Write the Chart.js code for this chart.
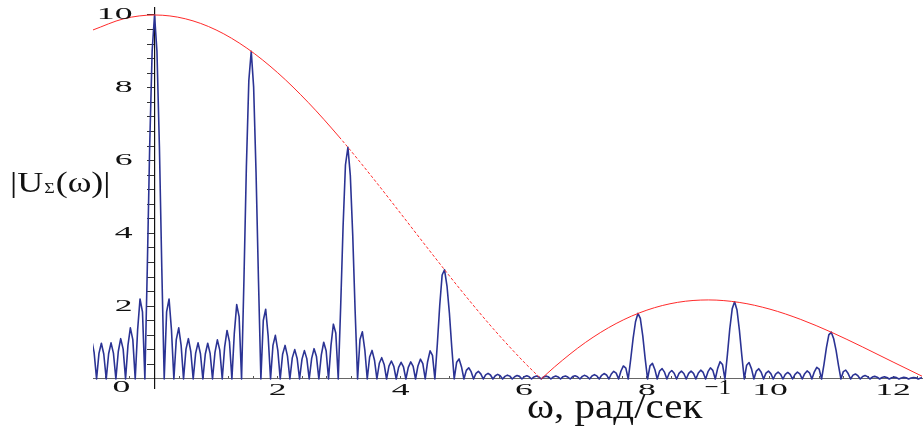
<!DOCTYPE html>
<html>
<head>
<meta charset="utf-8">
<script src="https://cdn.jsdelivr.net/npm/chart.js@4.4.1/dist/chart.umd.min.js"></script>
<style>
  html, body { margin: 0; padding: 0; background: #ffffff; }
  #wrap { width: 924px; height: 428px; position: relative; }
</style>
</head>
<body>
<div id="wrap"><canvas id="c" width="924" height="428"></canvas></div>
<script>
// ---------- DATA ----------
// |U_Sigma(omega)| : blue curve, omega in rad/s
const omega = [
  -1.021,-0.982,-0.942,-0.903,-0.864,-0.825,-0.785,-0.746,-0.707,-0.668,-0.628,-0.589,-0.550,
  -0.510,-0.471,-0.432,-0.393,-0.353,-0.314,-0.275,-0.236,-0.196,-0.157,-0.118,-0.079,-0.039,
  0,0.039,0.079,0.118, 0.157,0.196,0.236,0.275, 0.314,0.353,0.393,0.432, 0.471,0.511,0.550,0.589,
  0.628,0.668,0.707,0.746, 0.785,0.825,0.864,0.903, 0.942,0.982,1.021,1.060, 1.100,1.139,1.178,1.217,
  1.257,1.296,1.335,1.374, 1.414,1.453,1.492,1.532,
  1.571,1.610,1.649,1.689, 1.728,1.767,1.806,1.846, 1.885,1.924,1.963,2.003, 2.042,2.081,2.121,2.160,
  2.199,2.238,2.278,2.317, 2.356,2.396,2.435,2.474, 2.513,2.553,2.592,2.631, 2.670,2.710,2.749,2.788,
  2.827,2.867,2.906,2.945, 2.985,3.024,3.063,3.102,
  3.142,3.181,3.220,3.259, 3.299,3.338,3.377,3.417, 3.456,3.495,3.534,3.574, 3.613,3.652,3.691,3.731,
  3.770,3.809,3.848,3.888, 3.927,3.966,4.006,4.045, 4.084,4.123,4.163,4.202, 4.241,4.280,4.320,4.359,
  4.398,4.437,4.477,4.516, 4.555,4.595,4.634,4.673,
  4.712,4.752,4.791,4.830, 4.869,4.909,4.948,4.987, 5.027,5.066,5.105,5.144, 5.184,5.223,5.262,5.301,
  5.341,5.380,5.419,5.458, 5.498,5.537,5.576,5.616, 5.655,5.694,5.733,5.773, 5.812,5.851,5.890,5.930,
  5.969,6.008,6.048,6.087, 6.126,6.165,6.205,6.244,
  6.283,6.322,6.362,6.401, 6.440,6.480,6.519,6.558, 6.597,6.637,6.676,6.715, 6.754,6.794,6.833,6.872,
  6.912,6.951,6.990,7.029, 7.069,7.108,7.147,7.187, 7.226,7.265,7.304,7.344, 7.383,7.422,7.461,7.501,
  7.540,7.579,7.618,7.658, 7.697,7.736,7.776,7.815,
  7.854,7.893,7.933,7.972, 8.011,8.050,8.090,8.129, 8.168,8.207,8.247,8.286, 8.325,8.365,8.404,8.443,
  8.482,8.522,8.561,8.600, 8.639,8.679,8.718,8.757, 8.796,8.836,8.875,8.914, 8.954,8.993,9.032,9.071,
  9.111,9.150,9.189,9.228, 9.268,9.307,9.346,9.386,
  9.425,9.464,9.503,9.543, 9.582,9.621,9.660,9.700, 9.739,9.778,9.817,9.857, 9.896,9.935,9.975,10.014,
  10.053,10.092,10.132,10.171, 10.210,10.249,10.289,10.328, 10.367,10.407,10.446,10.485,
  10.524,10.564,10.603,10.642, 10.681,10.721,10.760,10.799, 10.838,10.878,10.917,10.956,
  10.996,11.035,11.074,11.113, 11.153,11.192,11.231,11.270, 11.310,11.349,11.388,11.428,
  11.467,11.506,11.545,11.585, 11.624,11.663,11.702,11.742, 11.781,11.820,11.860,11.899,
  11.938,11.977,12.017,12.056, 12.095,12.134,12.174,12.213, 12.252,12.292,12.331,12.370,
  12.409,12.449,12.488
];
const uSigma = [
  1.074,0.732,0,0.705,0.981,0.687,0,0.694,0.992,0.712,0,0.755,1.108,
  0.819,0,0.924,1.405,1.082,0,1.350,2.198,1.844,0,3.03,6.39,9.01,
  10,9.01,6.39,3.03, 0,1.844,2.198,1.350, 0,1.082,1.405,0.924, 0,0.819,1.108,0.755,
  0,0.712,0.992,0.694, 0,0.687,0.981,0.705, 0,0.732,1.074,0.793, 0,0.877,1.334,1.027,
  0,1.255,2.043,1.714, 0,2.756,5.815,8.199,
  9.003,8.024,5.691,2.697, 0,1.607,1.915,1.176, 0,0.922,1.198,0.788, 0,0.682,0.923,0.630,
  0,0.580,0.807,0.565, 0,0.546,0.780,0.560, 0,0.568,0.833,0.616, 0,0.664,1.009,0.777,
  0,0.925,1.506,1.263, 0,1.976,4.170,5.879,
  6.366,5.593,3.967,1.880, 0,1.087,1.296,0.796, 0,0.604,0.785,0.516, 0,0.432,0.585,0.399,
  0,0.354,0.494,0.346, 0,0.321,0.459,0.330, 0,0.321,0.470,0.348, 0,0.358,0.544,0.419,
  0,0.475,0.773,0.648, 0,0.960,2.026,2.856,
  3.001,2.554,1.811,0.858, 0,0.462,0.551,0.339, 0,0.237,0.308,0.202, 0,0.154,0.208,0.142,
  0,0.112,0.156,0.110, 0,0.088,0.126,0.090, 0,0.072,0.106,0.079, 0,0.062,0.094,0.072,
  0,0.062,0.086,0.060, 0,0.058,0.081,0.057,
  0,0.056,0.079,0.056, 0,0.056,0.080,0.057, 0,0.064,0.083,0.054, 0,0.066,0.089,0.061,
  0,0.072,0.100,0.070, 0,0.083,0.119,0.085, 0,0.102,0.150,0.111, 0,0.138,0.211,0.162,
  0,0.220,0.358,0.300, 0,0.529,1.116,1.573,
  1.801,1.668,1.183,0.561, 0,0.359,0.428,0.263, 0,0.220,0.285,0.188, 0,0.172,0.233,0.159,
  0,0.154,0.215,0.150, 0,0.153,0.218,0.156, 0,0.166,0.243,0.180, 0,0.202,0.307,0.237,
  0,0.292,0.476,0.399, 0,0.648,1.367,1.927,
  2.122,1.895,1.344,0.637, 0,0.380,0.453,0.278, 0,0.218,0.283,0.186, 0,0.160,0.217,0.148,
  0,0.135,0.188,0.131, 0,0.125,0.179,0.128, 0,0.128,0.187,0.139,
  0,0.146,0.222,0.171, 0,0.198,0.322,0.270, 0,0.407,0.860,1.212,
  1.286,1.105,0.784,0.371, 0,0.204,0.243,0.149, 0,0.106,0.138,0.091,
  0,0.070,0.095,0.065, 0,0.052,0.072,0.051, 0,0.041,0.059,0.042,
  0,0.035,0.051,0.037, 0,0.030,0.045,0.035, 0,0.026,0.042,0.035,
  0,0.029,0.040
];
// red envelope, first and second lobe
const envOmega1  = [-1,-0.5,0,0.5,1,1.5,2,2.5,3,3.5,4,4.5,5,5.5,6,6.283];
const envValues1 = [9.589,9.896,10,9.896,9.589,9.089,8.415,7.592,6.650,5.623,4.546,3.458,2.394,1.388,0.470,0];
const envOmega2  = [6.283,6.5,7,7.5,8,8.5,9,9.5,10,10.5,11,11.5,12,12.5];
const envValues2 = [0,0.333,1.002,1.524,1.892,2.106,2.172,2.104,1.918,1.636,1.283,0.884,0.466,0.053];
// axis tick labels
const xTickLabels = [2, 4, 6, 8, 10, 12];
const yTickLabels = [2, 4, 6, 8, 10];
const yAxisTitle = ['|U', 'Σ', '(ω)|'];
const xAxisTitle = ['ω, рад/сек', '−1'];

// ---------- CHART ----------
const toXY = (xs, ys) => xs.map((x, i) => ({ x: x, y: ys[i] }));
const SERIF = '"Liberation Serif", "DejaVu Serif", serif';

function stretchText(ctx, text, x, y, size, sx, align, baseline) {
  ctx.save();
  ctx.font = size + 'px ' + SERIF;
  ctx.textBaseline = baseline || 'alphabetic';
  ctx.textAlign = 'left';
  const w = ctx.measureText(text).width * sx;
  let x0 = x;
  if (align === 'center') x0 = x - w / 2;
  else if (align === 'right') x0 = x - w;
  ctx.translate(x0, y);
  ctx.scale(sx, 1);
  ctx.fillStyle = '#111';
  ctx.fillText(text, 0, 0);
  ctx.restore();
  return w;
}

const labelPlugin = {
  id: 'labels',
  afterDraw(chart) {
    const ctx = chart.ctx;
    const xs = chart.scales.x, ys = chart.scales.y;
    const x0 = xs.getPixelForValue(0), y0 = ys.getPixelForValue(0);
    // x tick labels
    xTickLabels.forEach(v => {
      stretchText(ctx, String(v), xs.getPixelForValue(v), y0 + 12, 17, 2.1, 'center', 'middle');
    });
    // y tick labels
    yTickLabels.forEach(v => {
      stretchText(ctx, String(v), x0 - 22, ys.getPixelForValue(v), 17, 2.1, 'right', 'middle');
    });
    // origin label
    stretchText(ctx, '0', x0 - 33, y0 + 9, 17, 2.1, 'center', 'middle');
    // y axis title |U_Σ(ω)|
    let cx = 10;
    const base = 192;
    cx += stretchText(ctx, yAxisTitle[0], cx, base, 30, 1.2, 'left');
    cx += stretchText(ctx, yAxisTitle[1], cx + 1, base + 1, 15, 1.2, 'left') + 2;
    stretchText(ctx, yAxisTitle[2], cx, base, 30, 1.2, 'left');
    // x axis title ω, рад/сек^-1
    let tx = 527;
    tx += stretchText(ctx, xAxisTitle[0], tx, 418, 36, 1.14, 'left');
    stretchText(ctx, xAxisTitle[1], tx + 2, 394, 22, 1.14, 'left');
  }
};

const dashedPart = ctx => (ctx.p0.parsed.x >= 3.0 ? [3, 2] : undefined);

const chart = new Chart(document.getElementById('c'), {
  type: 'line',
  data: {
    datasets: [
      {
        data: toXY(envOmega1, envValues1),
        borderColor: '#ff2a2a', borderWidth: 1, pointRadius: 0,
        cubicInterpolationMode: 'monotone', fill: false,
        segment: { borderDash: dashedPart }
      },
      {
        data: toXY(envOmega2, envValues2),
        borderColor: '#ff2a2a', borderWidth: 1, pointRadius: 0,
        cubicInterpolationMode: 'monotone', fill: false
      },
      {
        data: toXY(omega, uSigma),
        borderColor: '#2b3394', borderWidth: 1.6, pointRadius: 0,
        tension: 0, fill: false, borderJoinStyle: 'round'
      }
    ]
  },
  options: {
    responsive: false,
    animation: false,
    devicePixelRatio: 1,
    layout: { padding: { left: 93, right: 2, top: 7.7, bottom: 39.9 } },
    plugins: { legend: { display: false }, tooltip: { enabled: false } },
    events: [],
    scales: {
      x: {
        type: 'linear', min: -1, max: 12.47,
        position: { y: 0 },
        ticks: { display: false, stepSize: 0.4, includeBounds: false, autoSkip: false, maxTicksLimit: 100 },
        grid: { drawOnChartArea: false, drawTicks: true, tickLength: -3, tickColor: '#555', tickWidth: 1 },
        border: { display: true, color: '#666', width: 1 }
      },
      y: {
        type: 'linear', min: -0.25, max: 10.2,
        position: { x: 0 },
        ticks: { display: false, stepSize: 0.4, includeBounds: false, autoSkip: false, maxTicksLimit: 100 },
        grid: { drawOnChartArea: false, drawTicks: true, tickLength: 7, tickColor: '#333', tickWidth: 1 },
        border: { display: true, color: '#111', width: 1.2 }
      }
    }
  },
  plugins: [labelPlugin]
});
</script>
</body>
</html>
